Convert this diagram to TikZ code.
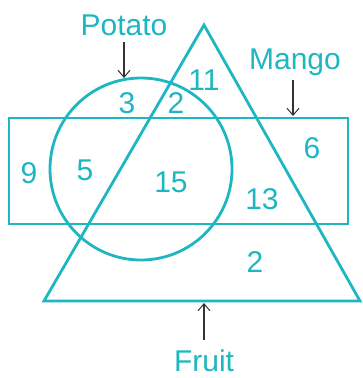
\documentclass[tikz,border=0pt]{standalone}
\usepackage{fontspec}
\setmainfont{Liberation Sans}
\usetikzlibrary{arrows.meta}
\definecolor{teal1}{HTML}{1DB6C1}
\definecolor{arrowgray}{HTML}{333333}
\begin{document}
\begin{tikzpicture}[x=1pt,y=-1pt,
  shape line/.style={draw=teal1,line width=2.8pt,line join=miter},
  num/.style={text=teal1,font=\fontsize{30}{32}\selectfont,inner sep=0pt},
  word/.style={text=teal1,font=\fontsize{30}{32}\selectfont,inner sep=0pt,anchor=base},
  pointer/.style={draw=arrowgray,line width=1.6pt,-{Straight Barb[length=7pt,width=12pt,line width=1pt]}}]
\useasboundingbox (0,0) rectangle (362,378);
% shapes
\draw[shape line] (9,118) rectangle (348,224);
\draw[shape line] (141,169) circle (91);
\draw[shape line] (204,25) -- (360,301) -- (44,301) -- cycle;
% labels
\node[word] (potato) at (124,35) {Potato};
\node[word] (mango) at (295,69) {Mango};
\node[word] (fruit) at (204,371) {Fruit};
\coordinate (ptip) at (124,78);
\coordinate (mtip) at (293,116);
\coordinate (ftip) at (204,303);
\coordinate (pstart) at (124,42);
\coordinate (mstart) at (293,80);
\coordinate (fstart) at (204,340);
\draw[pointer] (pstart) -- (ptip);
\draw[pointer] (mstart) -- (mtip);
\draw[pointer] (fstart) -- (ftip);
% numbers
\node[num] (n3) at (127,103) {3};
\node[num] (n2a) at (176,103) {2};
\node[num] (n11) at (204,80) {11};
\node[num] (n6) at (312,148) {6};
\node[num] (n9) at (29,173) {9};
\node[num] (n5) at (85,170) {5};
\node[num] (n15) at (171,182) {15};
\node[num] (n13) at (262,199) {13};
\node[num] (n2b) at (255,262) {2};
\end{tikzpicture}
\end{document}
